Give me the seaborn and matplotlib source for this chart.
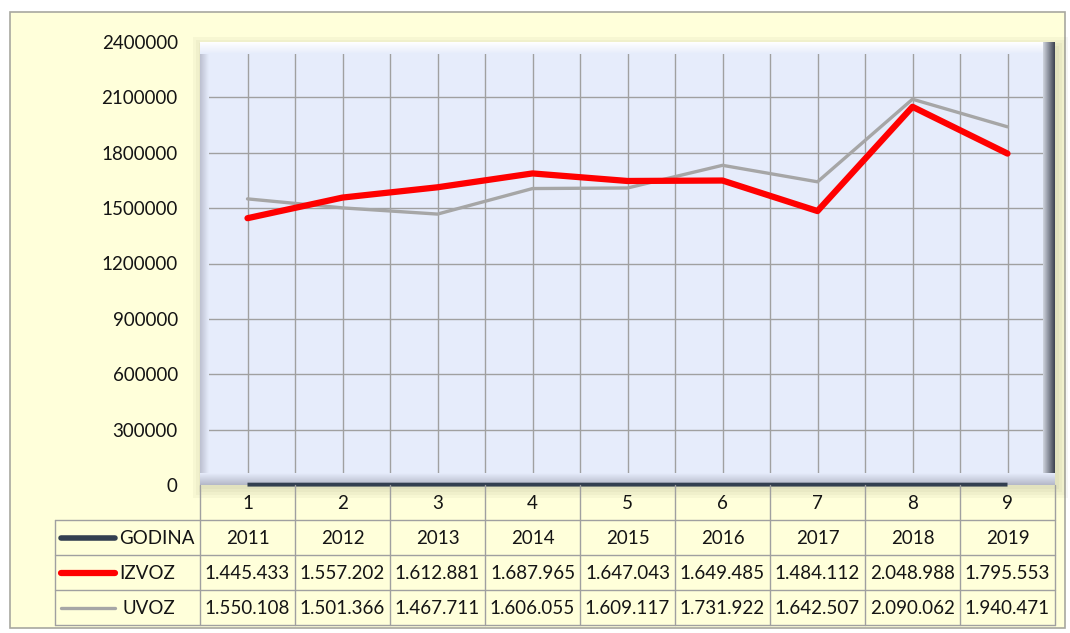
import numpy as np
import pandas as pd
import matplotlib
matplotlib.use('Agg')
import matplotlib.pyplot as plt
import seaborn as sns
from matplotlib.patches import Rectangle

# data
categories = [1, 2, 3, 4, 5, 6, 7, 8, 9]
godina = [2011, 2012, 2013, 2014, 2015, 2016, 2017, 2018, 2019]
izvoz = [1445433, 1557202, 1612881, 1687965, 1647043, 1649485, 1484112, 2048988, 1795553]
uvoz = [1550108, 1501366, 1467711, 1606055, 1609117, 1731922, 1642507, 2090062, 1940471]
y_ticks = [0, 300000, 600000, 900000, 1200000, 1500000, 1800000, 2100000, 2400000]

series_names = ['GODINA', 'IZVOZ', 'UVOZ']
series_colors = {'GODINA': '#333F50', 'IZVOZ': '#FF0000', 'UVOZ': '#A6A6A6'}
series_widths = {'GODINA': 4.0, 'IZVOZ': 4.5, 'UVOZ': 2.4}

df = pd.DataFrame({'cat': categories, 'GODINA': godina, 'IZVOZ': izvoz, 'UVOZ': uvoz})

sns.set_theme(style='white')
plt.rcParams['font.family'] = ['Lato', 'DejaVu Sans']
TXT = '#141414'
GRID = '#A0A0A0'
W, H = 1070, 633


def fig_rect(x0, y0, x1, y1):
    # pixel box (top-left origin) -> figure fraction [l, b, w, h]
    return [x0 / W, (H - y1) / H, (x1 - x0) / W, (y1 - y0) / H]


fig = plt.figure(figsize=(10.7, 6.33), dpi=100)
fig.patch.set_facecolor('white')

# chart area background
l, b, w, h = fig_rect(10, 12, 1065, 628)
fig.patches.append(Rectangle((l, b), w, h, transform=fig.transFigure,
                             facecolor='#FFFFDA', edgecolor='#A8A8A0', lw=1.2, zorder=-10))
# soft shadow around the plot area
for i in range(4):
    d = 2 + i * 3
    l, b, w, h = fig_rect(200 - d + 4, 42 - d + 6, 1055 + d + 2, 485 + d + 2)
    fig.patches.append(Rectangle((l, b), w, h, transform=fig.transFigure,
                                 facecolor='#6E6E50', edgecolor='none', alpha=0.05, zorder=-9))

ax = fig.add_axes(fig_rect(200, 42, 1055, 485))
ax.set_zorder(2)
ax.set_facecolor('#E6ECFB')

for name in ['UVOZ', 'IZVOZ']:
    sns.lineplot(data=df, x='cat', y=name, ax=ax, color=series_colors[name],
                 linewidth=series_widths[name], solid_capstyle='round', zorder=4)
sns.lineplot(data=df, x='cat', y='GODINA', ax=ax, color=series_colors['GODINA'],
             linewidth=2.8, solid_capstyle='butt', clip_on=False, zorder=6)

ax.set_xlim(0.5, 9.5)
ax.set_ylim(0, 2400000)
ax.set_yticks(y_ticks)
ax.set_yticklabels([str(v) for v in y_ticks], fontsize=13.5, color=TXT)
ax.tick_params(axis='y', length=0, pad=16)
ax.set_xticks(np.arange(0.5, 10, 0.5))
ax.set_xticklabels([])
ax.tick_params(axis='x', length=0)
ax.grid(True, color=GRID, lw=1.0, zorder=1)
ax.set_axisbelow(True)
ax.set_xlabel('')
ax.set_ylabel('')
for s in ax.spines.values():
    s.set_visible(False)

# bevel effects of the plot area
def grad(ax, extent, c0, c1, a0, a1, vertical, n=40):
    t = np.linspace(0, 1, n)
    c0 = np.array(matplotlib.colors.to_rgb(c0))
    c1 = np.array(matplotlib.colors.to_rgb(c1))
    rgba = np.zeros((n, 4))
    rgba[:, :3] = c0[None, :] * (1 - t[:, None]) + c1[None, :] * t[:, None]
    rgba[:, 3] = a0 * (1 - t) + a1 * t
    img = rgba[:, None, :] if vertical else rgba[None, :, :]
    ax.imshow(img, extent=extent, transform=ax.transAxes, aspect='auto',
              origin='upper' if vertical else 'lower', zorder=3, interpolation='bilinear')

bw = 12
grad(ax, [0, 1, 1 - bw / 443, 1], '#FFFFFF', '#E6ECFB', 1.0, 1.0, True)
grad(ax, [0, 1, 0, bw / 443], '#E6ECFB', '#B4B8C8', 1.0, 1.0, True)
grad(ax, [0, 9 / 855, bw / 443, 1 - bw / 443], '#BCC0D0', '#E6ECFB', 1.0, 1.0, False)
grad(ax, [1 - bw / 855, 1, bw / 443, 1], '#D0D4DE', '#3C4250', 1.0, 1.0, False)
ax.set_xlim(0.5, 9.5)
ax.set_ylim(0, 2400000)

# data table under the plot
tax = fig.add_axes(fig_rect(55, 485, 1055, 625))
tax.set_zorder(3)
tax.set_xlim(0.5 - 145 / 95, 9.5)
tax.set_ylim(4, 0)
tax.axis('off')
xl = 0.5 - 145 / 95
for xv in np.arange(0.5, 10, 1.0):
    tax.plot([xv, xv], [0, 4], color=GRID, lw=1.0, clip_on=False)
tax.plot([xl, xl], [1, 4], color=GRID, lw=1.0, clip_on=False)
for yv in [1, 2, 3, 4]:
    tax.plot([xl, 9.5], [yv, yv], color=GRID, lw=1.0, clip_on=False)

rows = {
    'GODINA': [str(v) for v in godina],
    'IZVOZ': [f'{v:,}'.replace(',', '.') for v in izvoz],
    'UVOZ': [f'{v:,}'.replace(',', '.') for v in uvoz],
}
for c in categories:
    tax.text(c, 0.52, str(c), ha='center', va='center', fontsize=13.5, color=TXT)
for r, name in enumerate(series_names, start=1):
    for c, val in zip(categories, rows[name]):
        tax.text(c, r + 0.52, val, ha='center', va='center', fontsize=13.5, color=TXT)
    x0 = 0.5 + (61 - 200) / 95
    x1 = 0.5 + (115 - 200) / 95
    tax.plot([x0, x1], [r + 0.5, r + 0.5], color=series_colors[name],
             lw=series_widths[name], solid_capstyle='round', clip_on=False)
    tx = 0.5 + ((119 if name != 'UVOZ' else 122) - 200) / 95
    tax.text(tx, r + 0.52, name, ha='left', va='center', fontsize=13.5, color=TXT)

fig.savefig('out.png', dpi=100, facecolor=fig.get_facecolor())
